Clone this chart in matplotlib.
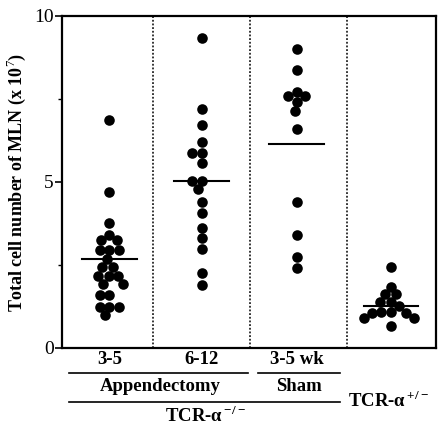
import numpy as np
import matplotlib
matplotlib.use("Agg")
import matplotlib.pyplot as plt
import matplotlib.transforms as mtransforms

plt.rcParams['font.family'] = ['Liberation Serif', 'DejaVu Serif']
plt.rcParams['mathtext.fontset'] = 'custom'
plt.rcParams['mathtext.rm'] = 'Liberation Serif'
plt.rcParams['mathtext.bf'] = 'Liberation Serif:bold'

# values (x 10^7 cells)
appx_3_5 = [6.87, 4.69, 3.75, 3.40, 3.25, 3.25, 2.95, 2.95, 2.95, 2.67,
            2.43, 2.43, 2.17, 2.17, 2.17, 1.93, 1.93, 1.60, 1.60,
            1.24, 1.24, 1.24, 0.99]
appx_6_12 = [9.33, 7.19, 6.72, 6.21, 5.88, 5.88, 5.56, 5.04, 5.04, 4.78,
             4.41, 4.06, 3.60, 3.30, 2.97, 2.25, 1.90]
sham_3_5 = [9.0, 8.37, 7.72, 7.59, 7.59, 7.42, 7.14, 6.59, 4.41, 3.40,
            2.75, 2.40]
tcr_het = [2.43, 1.85, 1.62, 1.62, 1.38, 1.38, 1.25, 1.08, 1.08, 1.05,
           1.05, 0.90, 0.90, 0.65]
groups = [appx_3_5, appx_6_12, sham_3_5, tcr_het]
group_means = [2.67, 5.03, 6.13, 1.25]
group_labels = ['3-5', '6-12', '3-5 wk']

centers = [1.05, 2.0, 2.98, 3.95]


def swarm_offsets(vals, ax, d_px):
    # simple beeswarm: place each dot as close to the centre as possible
    p0 = ax.transData.transform((0, 0))
    p1 = ax.transData.transform((1, 1))
    sx, sy = p1[0] - p0[0], p1[1] - p0[1]
    order = np.argsort(vals)[::-1]
    placed = []
    offs = np.zeros(len(vals))
    for i in order:
        y = vals[i] * sy
        cands = [0.0]
        for px, py in placed:
            dy = abs(y - py)
            if dy < d_px:
                dx = np.sqrt(d_px ** 2 - dy ** 2)
                cands += [px + dx, px - dx]
        cands.sort(key=lambda c: (abs(c), c))
        for c in cands:
            if all((c - px) ** 2 + (y - py) ** 2 >= d_px ** 2 - 1e-6 for px, py in placed):
                break
        placed.append((c, y))
        offs[i] = c / sx
    return offs


fig = plt.figure(figsize=(4.39, 4.25), dpi=100)
ax = fig.add_axes([0.1412, 0.1812, 0.852, 0.7812])
ax.set_xlim(0.562, 4.417)
ax.set_ylim(0, 10)

for xc, vals, m in zip(centers, groups, group_means):
    vals = np.array(vals)
    offs = swarm_offsets(vals, ax, 9.5)
    ax.scatter(xc + offs, vals, s=58, color='black', zorder=3, linewidths=0)
    ax.plot([xc - 0.28, xc + 0.28], [m, m], color='black', lw=1.5, zorder=4)

for xd in [1.5, 2.5, 3.5]:
    ax.axvline(xd, color='black', ls=(0, (1.2, 1.2)), lw=1.1)

for sp in ax.spines.values():
    sp.set_linewidth(1.6)

ax.set_xticks([])
ax.set_yticks([0, 5, 10])
ax.set_yticks([2.5, 7.5], minor=True)
ax.tick_params(axis='y', which='major', length=5, width=1.2, labelsize=14, pad=1)
ax.tick_params(axis='y', which='minor', length=3, width=1)
ax.set_ylabel('Total cell number of MLN (x 10$^7$)', fontsize=13, fontweight='bold', labelpad=4)

trans = mtransforms.blended_transform_factory(ax.transData, ax.transAxes)
for xc, lab in zip(centers[:3], group_labels):
    ax.text(xc, -0.036, lab, transform=trans, ha='center', va='center',
            fontsize=13.5, fontweight='bold')
ax.plot([0.634, 2.48], [-0.0753, -0.0753], transform=trans, color='black', lw=1.2, clip_on=False)
ax.plot([2.583, 3.428], [-0.0753, -0.0753], transform=trans, color='black', lw=1.2, clip_on=False)
ax.plot([0.634, 3.428], [-0.163, -0.163], transform=trans, color='black', lw=1.2, clip_on=False)
ax.text(1.572, -0.117, 'Appendectomy', transform=trans, ha='center', va='center',
        fontsize=13.5, fontweight='bold')
ax.text(3.0, -0.117, 'Sham', transform=trans, ha='center', va='center',
        fontsize=13.5, fontweight='bold')
ax.text(2.04, -0.203, 'TCR-α$^{\\,\\mathregular{-/-}}$', transform=trans, ha='center', va='center',
        fontsize=13.5, fontweight='bold')
ax.text(3.93, -0.157, 'TCR-α$^{\\,\\mathregular{+/-}}$', transform=trans, ha='center', va='center',
        fontsize=13.5, fontweight='bold')

fig.savefig('out.png', dpi=100)
